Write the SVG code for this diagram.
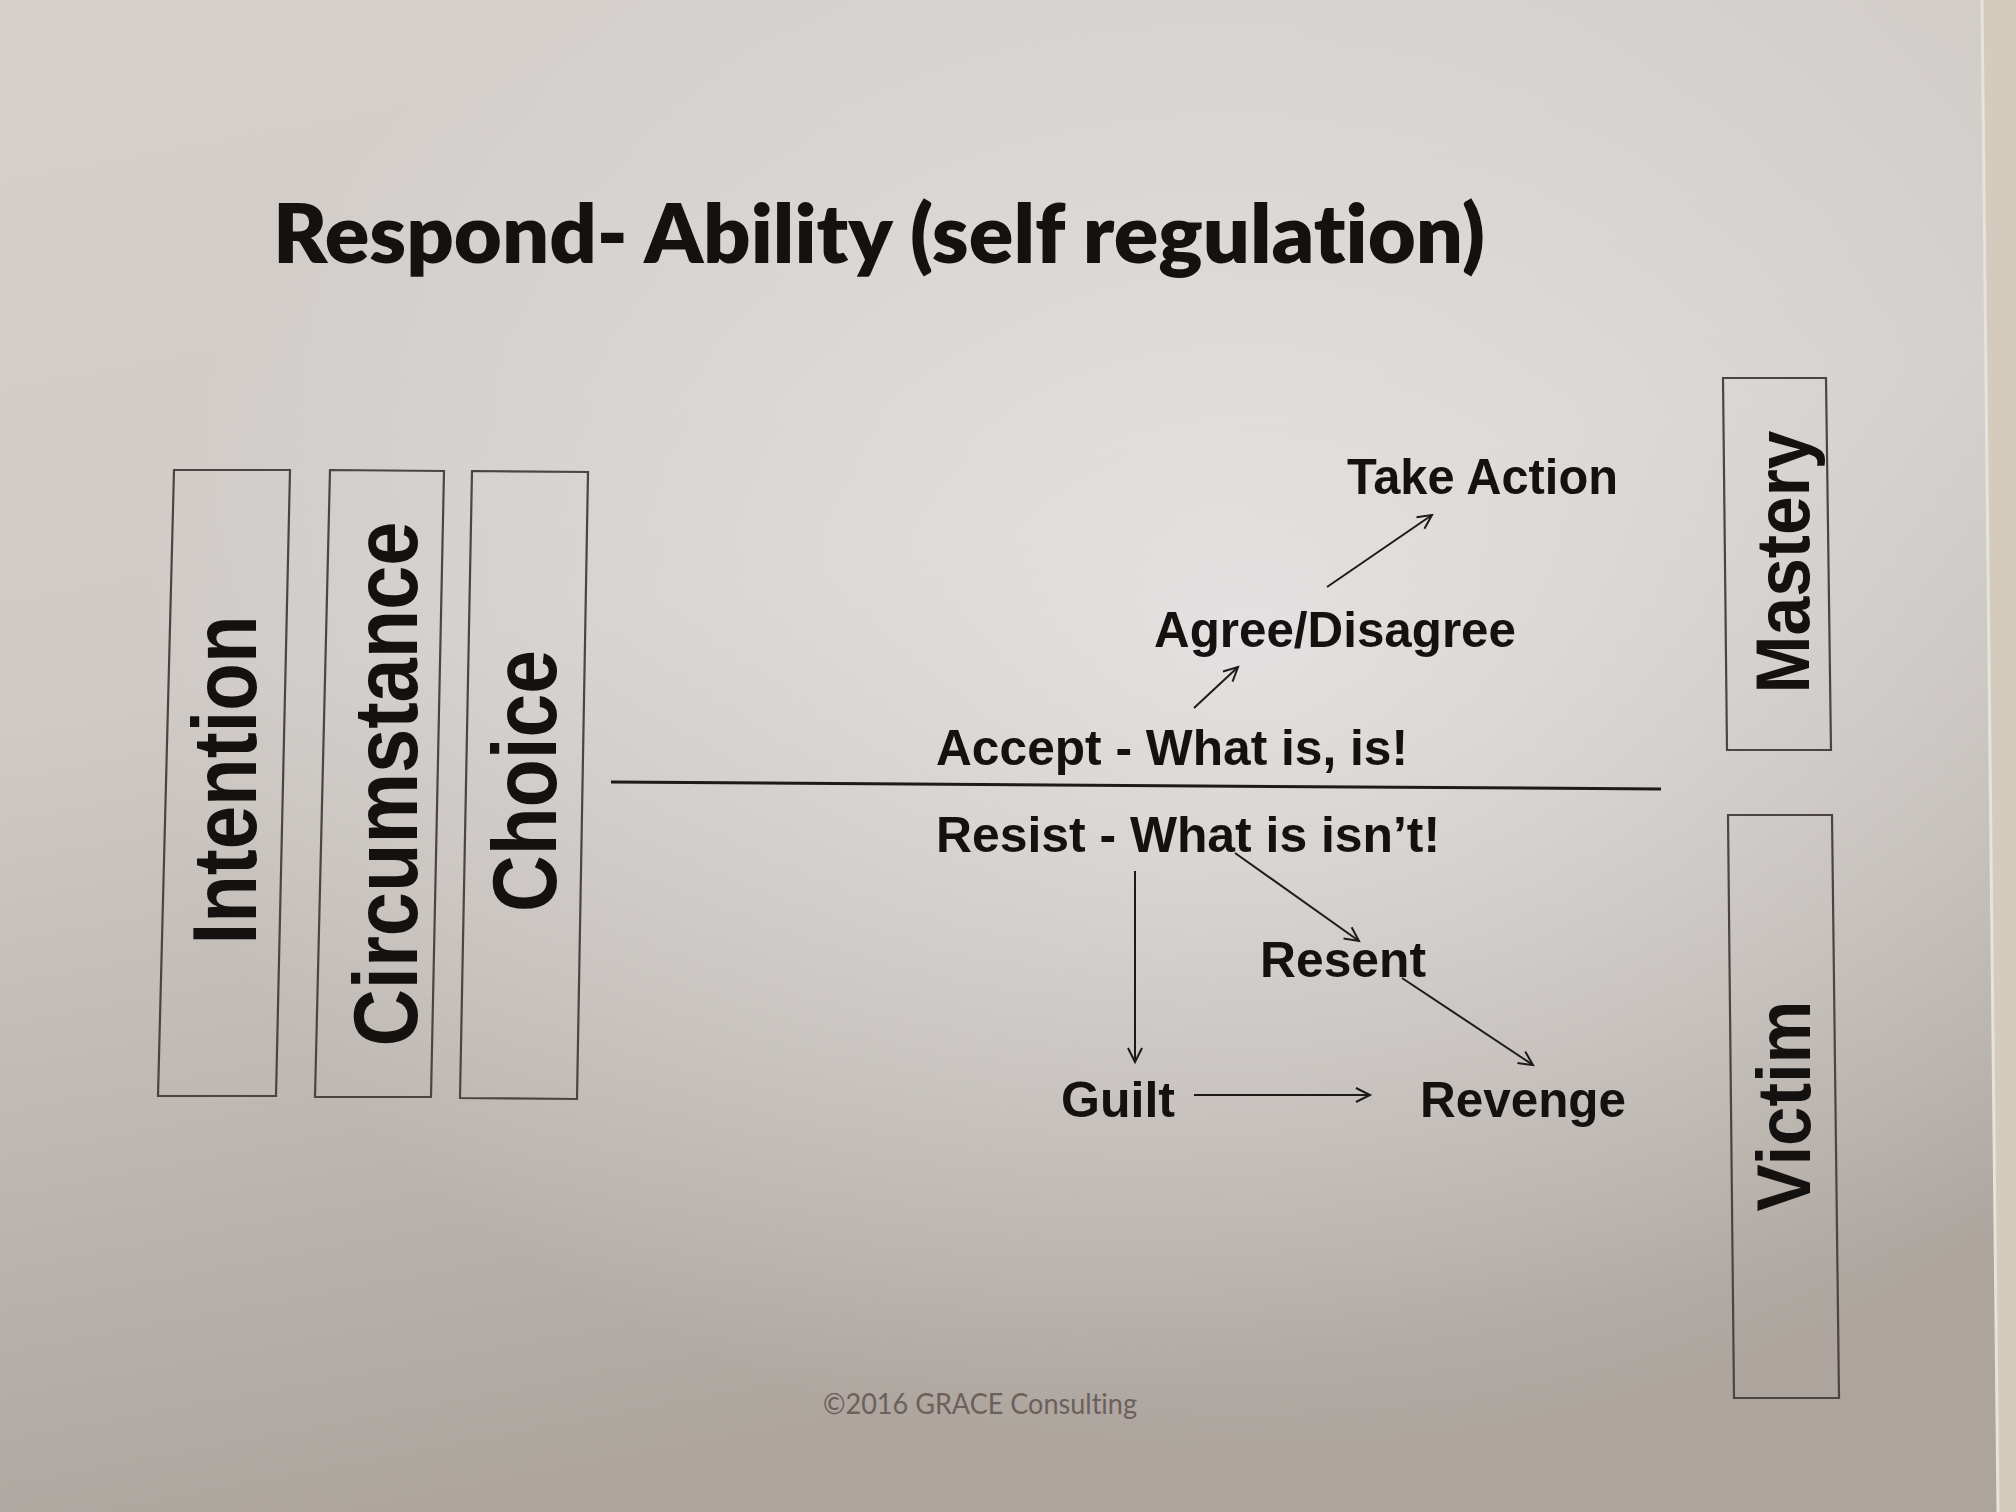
<svg xmlns="http://www.w3.org/2000/svg" width="2016" height="1512" viewBox="0 0 2016 1512">
<style>
text{font-variant-ligatures:none}
.box{fill:none;stroke:#4a4542;stroke-width:2.2}
.vt{font-family:"Liberation Sans",Arial,sans-serif;font-weight:700;font-size:90px;fill:#141211;text-anchor:middle}
.vr{font-family:"Liberation Sans",Arial,sans-serif;font-weight:700;font-size:76px;fill:#141211;text-anchor:middle}
.lbl{font-family:"Liberation Sans",Arial,sans-serif;font-weight:700;font-size:50px;fill:#141211}
.title{font-family:Lato,"Open Sans",sans-serif;font-weight:800;font-size:82px;fill:#141211}
.copy{font-family:Lato,"Open Sans",sans-serif;font-size:29px;fill:#6b605b}
.conn{stroke:#1d1a19;stroke-width:2;fill:none}
</style>
<defs>
<linearGradient id="bg" x1="0" y1="0" x2="0.25" y2="1">
<stop offset="0" stop-color="#d5d0cc"/>
<stop offset="0.45" stop-color="#cfcac6"/>
<stop offset="1" stop-color="#aca49d"/>
</linearGradient>
<radialGradient id="hl" cx="0.62" cy="0.42" r="0.55">
<stop offset="0" stop-color="#ecebec" stop-opacity="0.75"/>
<stop offset="1" stop-color="#ecebec" stop-opacity="0"/>
</radialGradient>
<marker id="ah" markerUnits="userSpaceOnUse" markerWidth="20" markerHeight="20" viewBox="-16 -10 20 20" refX="0" refY="0" orient="auto">
<path d="M-14,-7 L0,0 L-14,7" fill="none" stroke="#1d1a19" stroke-width="2"/>
</marker>
</defs>
<rect x="0" y="0" width="2016" height="1512" fill="url(#bg)"/>
<rect x="0" y="0" width="2016" height="1512" fill="url(#hl)"/>
<polygon points="1982,0 2016,0 2016,1512 1998,1512" fill="#d4cbbd"/>
<line x1="1982" y1="0" x2="1998" y2="1512" stroke="#e6e2dc" stroke-width="3"/>

<g id="title">
<text class="title" x="273" y="263" textLength="1212" lengthAdjust="spacingAndGlyphs">Respond- Ability (self regulation)</text>
</g>

<g id="node-intention">
<polygon class="box" points="174,470 290,470 276,1096 158,1096"/>
<text class="vt" transform="translate(256,780) rotate(-90)" textLength="329" lengthAdjust="spacingAndGlyphs">Intention</text>
</g>
<g id="node-circumstance">
<polygon class="box" points="330,470 444,471 431,1097 315,1097"/>
<text class="vt" transform="translate(417,784) rotate(-90)" textLength="525" lengthAdjust="spacingAndGlyphs">Circumstance</text>
</g>
<g id="node-choice">
<polygon class="box" points="472,471 588,472 577,1099 460,1098"/>
<text class="vt" transform="translate(556,781) rotate(-90)" textLength="262" lengthAdjust="spacingAndGlyphs">Choice</text>
</g>
<g id="node-mastery">
<polygon class="box" points="1723,378 1826,378 1831,750 1727,750"/>
<text class="vr" transform="translate(1809,562) rotate(-90)" textLength="263" lengthAdjust="spacingAndGlyphs">Mastery</text>
</g>
<g id="node-victim">
<polygon class="box" points="1728,815 1832,815 1839,1398 1734,1398"/>
<text class="vr" transform="translate(1810,1106) rotate(-90)" textLength="211" lengthAdjust="spacingAndGlyphs">Victim</text>
</g>

<g id="node-take-action"><text class="lbl" x="1347" y="494" font-size="48" textLength="271" lengthAdjust="spacingAndGlyphs">Take Action</text></g>
<g id="node-agree"><text class="lbl" x="1154" y="647" font-size="49" textLength="362" lengthAdjust="spacingAndGlyphs">Agree/Disagree</text></g>
<g id="node-accept"><text class="lbl" x="936" y="765" textLength="472" lengthAdjust="spacingAndGlyphs">Accept - What is, is!</text></g>
<g id="node-resist"><text class="lbl" x="936" y="852" textLength="504" lengthAdjust="spacingAndGlyphs">Resist - What is isn’t!</text></g>
<g id="node-resent"><text class="lbl" x="1260" y="977" textLength="166" lengthAdjust="spacingAndGlyphs">Resent</text></g>
<g id="node-guilt"><text class="lbl" x="1061" y="1117" textLength="114" lengthAdjust="spacingAndGlyphs">Guilt</text></g>
<g id="node-revenge"><text class="lbl" x="1420" y="1117" textLength="206" lengthAdjust="spacingAndGlyphs">Revenge</text></g>

<g id="connectors">
<line x1="611" y1="782" x2="1661" y2="789" stroke="#1d1a19" stroke-width="3"/>
<line class="conn" x1="1327" y1="587" x2="1432" y2="515" marker-end="url(#ah)"/>
<line class="conn" x1="1194" y1="708" x2="1238" y2="667" marker-end="url(#ah)"/>
<line class="conn" x1="1235" y1="853" x2="1359" y2="941" marker-end="url(#ah)"/>
<line class="conn" x1="1402" y1="978" x2="1533" y2="1065" marker-end="url(#ah)"/>
<line class="conn" x1="1135" y1="871" x2="1135" y2="1062" marker-end="url(#ah)"/>
<line class="conn" x1="1194" y1="1095" x2="1370" y2="1095" marker-end="url(#ah)"/>
</g>

<g id="footer">
<text class="copy" x="823" y="1414" textLength="314" lengthAdjust="spacingAndGlyphs">©2016 GRACE Consulting</text>
</g>
</svg>
